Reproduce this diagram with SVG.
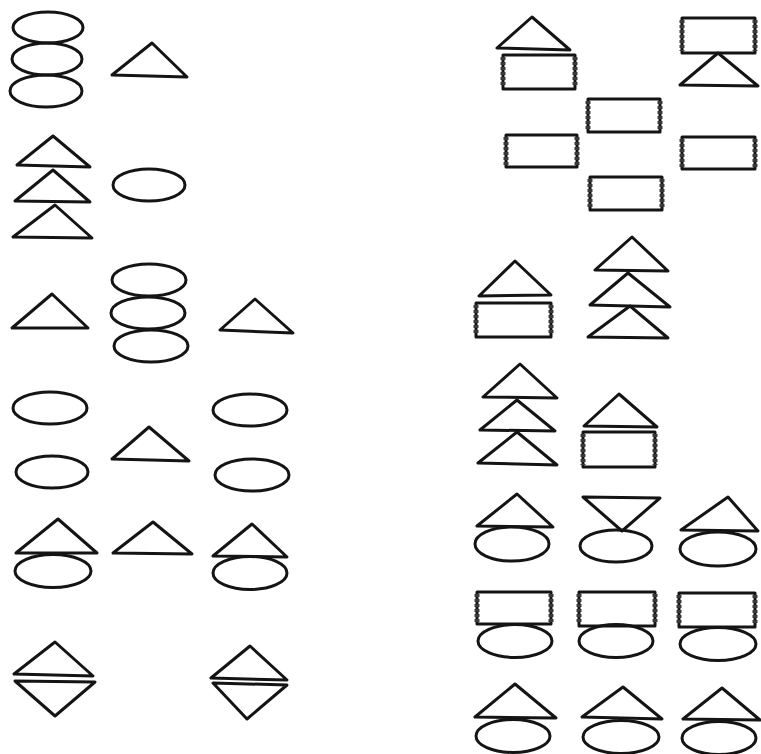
<svg xmlns="http://www.w3.org/2000/svg" width="761" height="754" viewBox="0 0 761 754">
<style>
.s{fill:none;stroke:#141414;stroke-width:3;stroke-linejoin:round;stroke-linecap:round}
.rs{fill:none;stroke:#3a3a3a;stroke-width:5;stroke-dasharray:3 2}
</style>
<rect width="761" height="754" fill="#fff"/>
<!-- left column -->
<g id="g1" class="s">
<ellipse cx="48" cy="27.5" rx="35" ry="15.5"/>
<ellipse cx="47" cy="59" rx="35" ry="16"/>
<ellipse cx="46" cy="91" rx="36" ry="16"/>
</g>
<g id="g2" class="s"><polygon points="152,43 112,75 187,77"/></g>
<g id="g3" class="s">
<polygon points="53,136 17,165 90,167"/>
<polygon points="53,170 15,201 90,202"/>
<polygon points="55,205 13,237 92,238"/>
</g>
<g id="g4" class="s"><ellipse cx="149" cy="185" rx="36" ry="16"/></g>
<g id="g5" class="s"><polygon points="52,294 12,328 88,328"/></g>
<g id="g6" class="s">
<ellipse cx="149" cy="280" rx="37" ry="16"/>
<ellipse cx="148" cy="313" rx="37" ry="16"/>
<ellipse cx="151" cy="346" rx="37" ry="16"/>
</g>
<g id="g7" class="s"><polygon points="255,299 220,330 293,333"/></g>
<g id="g8" class="s">
<ellipse cx="50" cy="408" rx="37" ry="16"/>
<ellipse cx="52" cy="472" rx="36" ry="16"/>
</g>
<g id="g9" class="s"><polygon points="149,427 112,459 189,461"/></g>
<g id="g10" class="s">
<ellipse cx="250" cy="410" rx="37" ry="16"/>
<ellipse cx="252" cy="475" rx="37" ry="16"/>
</g>
<g id="g11" class="s">
<polygon points="58,519 16,553 97,553"/>
<ellipse cx="53" cy="571" rx="38" ry="16.5"/>
</g>
<g id="g12" class="s"><polygon points="153,522 113,553 192,554"/></g>
<g id="g13" class="s">
<polygon points="252,524 213,556 287,557"/>
<ellipse cx="250" cy="573" rx="37" ry="16.5"/>
</g>
<g id="g14" class="s">
<polygon points="55,642 14,674 93,676"/>
<polygon points="15,681 95,682 55,716"/>
</g>
<g id="g15" class="s">
<polygon points="250,646 211,678 287,680"/>
<polygon points="213,683 287,685 247,719"/>
</g>
<!-- right column -->
<g id="g16">
<polygon class="s" points="532,17 497,48 570,50"/>
<rect class="s" x="503" y="55" width="72" height="34"/>
<path class="rs" d="M503,57V87M575,57V87"/>
</g>
<g id="g17">
<rect class="s" x="682" y="18" width="73" height="35"/>
<path class="rs" d="M682,20V51M755,20V51"/>
<polygon class="s" points="718,53 680,85 758,86"/>
</g>
<g id="g18">
<rect class="s" x="588" y="99" width="72" height="33"/>
<path class="rs" d="M588,101V130M660,101V130"/>
</g>
<g id="g19">
<rect class="s" x="506" y="135" width="71" height="32"/>
<path class="rs" d="M506,137V165M577,137V165"/>
</g>
<g id="g20">
<rect class="s" x="682" y="137" width="73" height="32"/>
<path class="rs" d="M682,139V167M755,139V167"/>
</g>
<g id="g21">
<rect class="s" x="590" y="177" width="72" height="33"/>
<path class="rs" d="M590,179V208M662,179V208"/>
</g>
<g id="g22">
<polygon class="s" points="515,261 479,296 551,295"/>
<rect class="s" x="476" y="303" width="75" height="34"/>
<path class="rs" d="M476,305V335M551,305V335"/>
</g>
<g id="g23" class="s">
<polygon points="632,237 595,270 668,271"/>
<polygon points="628,273 590,305 670,307"/>
<polygon points="630,306 588,337 668,338"/>
</g>
<g id="g24" class="s">
<polygon points="520,364 483,397 557,398"/>
<polygon points="517,400 480,430 555,431"/>
<polygon points="517,432 478,463 557,465"/>
</g>
<g id="g25">
<polygon class="s" points="619,394 584,426 657,427"/>
<rect class="s" x="583" y="432" width="72" height="35"/>
<path class="rs" d="M583,434V465M655,434V465"/>
</g>
<g id="g26" class="s">
<polygon points="517,494 477,526 553,527"/>
<ellipse cx="512" cy="544" rx="37" ry="17"/>
</g>
<g id="g27" class="s">
<polygon points="583,497 660,498 622,531"/>
<ellipse cx="616" cy="546" rx="36" ry="16"/>
</g>
<g id="g28" class="s">
<polygon points="728,497 681,530 758,531"/>
<ellipse cx="718" cy="549" rx="38" ry="17"/>
</g>
<g id="g29">
<rect class="s" x="477" y="592" width="74" height="32"/>
<path class="rs" d="M477,594V622M551,594V622"/>
<ellipse class="s" cx="515" cy="641" rx="37" ry="16.5"/>
</g>
<g id="g30">
<rect class="s" x="579" y="592" width="76" height="34"/>
<path class="rs" d="M579,594V624M655,594V624"/>
<ellipse class="s" cx="616" cy="641" rx="37" ry="16.5"/>
</g>
<g id="g31">
<rect class="s" x="679" y="593" width="76" height="34"/>
<path class="rs" d="M679,595V625M755,595V625"/>
<ellipse class="s" cx="718" cy="644" rx="38" ry="16.5"/>
</g>
<g id="g32" class="s">
<polygon points="515,684 475,717 556,718"/>
<ellipse cx="513" cy="736" rx="37" ry="16.5"/>
</g>
<g id="g33" class="s">
<polygon points="623,687 582,717 662,719"/>
<ellipse cx="621" cy="737" rx="38" ry="16.5"/>
</g>
<g id="g34" class="s">
<polygon points="722,688 683,719 760,720"/>
<ellipse cx="719" cy="738" rx="37" ry="16.5"/>
</g>
<g id="connectors"></g>
</svg>
